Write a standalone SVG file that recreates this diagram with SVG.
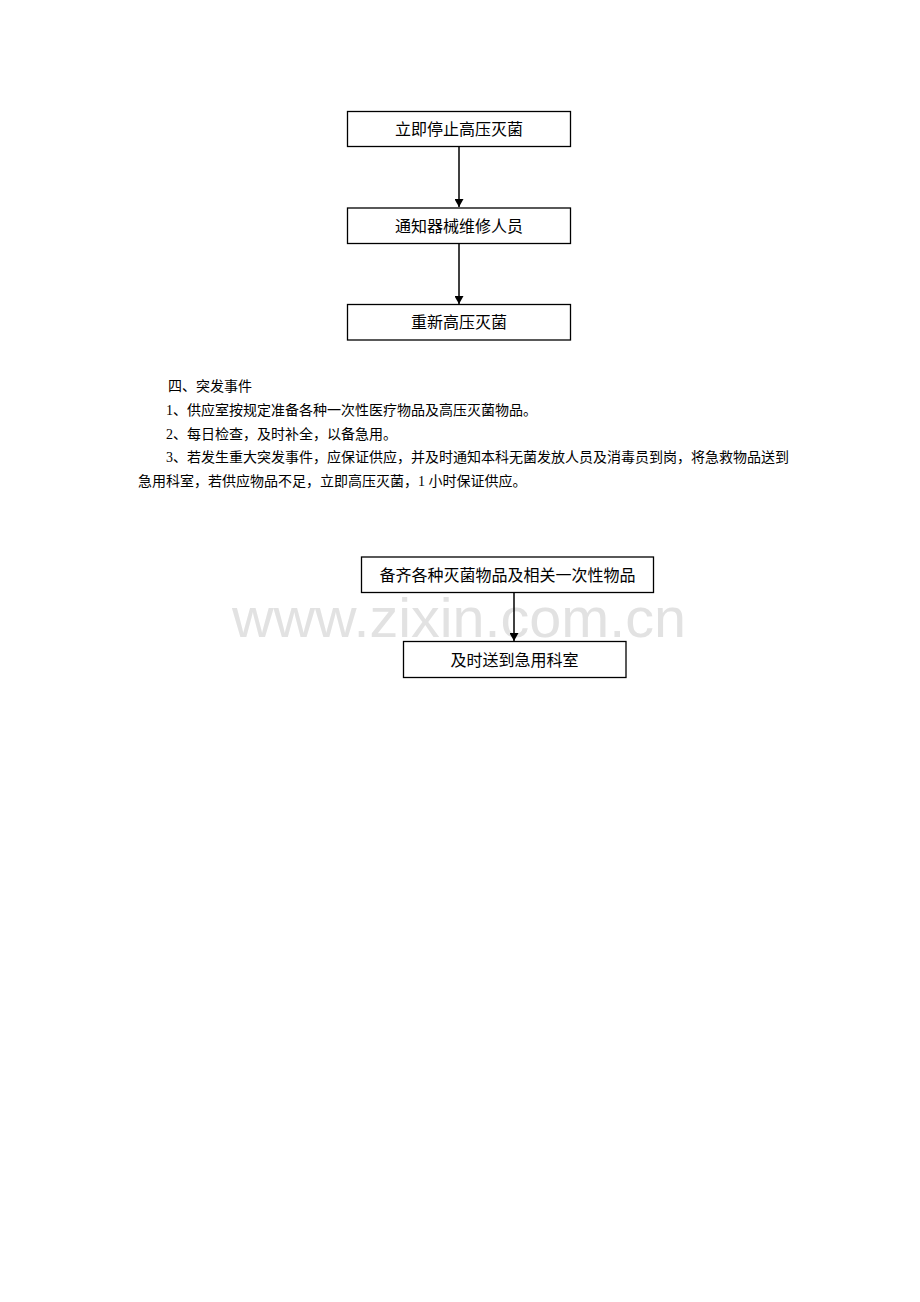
<svg xmlns="http://www.w3.org/2000/svg" width="920" height="1302" viewBox="0 0 920 1302">
<style>
.box{fill:none;stroke:#000;stroke-width:1.3}
.bt{font-family:"Liberation Serif","Noto Sans CJK SC",serif;font-size:16px;fill:#000;text-anchor:middle}
.pt{font-family:"Liberation Serif","Noto Sans CJK SC",serif;font-size:14px;fill:#000}
.wm{font-family:"Liberation Sans",Arial,sans-serif;font-size:56px;fill:#e2e2e2}
.con{stroke:#000;stroke-width:1.5;fill:none}
</style>
<defs>
<marker id="ah" markerWidth="8" markerHeight="9" refX="8" refY="4.5" orient="auto" markerUnits="userSpaceOnUse">
<path d="M0,0 L8,4.5 L0,9 Z" fill="#000"/>
</marker>
</defs>
<rect width="920" height="1302" fill="#fff"/>
<text class="wm" x="232" y="637" textLength="454" lengthAdjust="spacingAndGlyphs">www.zixin.com.cn</text>
<g id="connectors">
<line class="con" x1="459" y1="147" x2="459" y2="207" marker-end="url(#ah)"/>
<line class="con" x1="459" y1="244" x2="459" y2="304" marker-end="url(#ah)"/>
<line class="con" x1="514" y1="593" x2="514" y2="641" marker-end="url(#ah)"/>
</g>
<g id="n1"><rect class="box" x="347.5" y="111.5" width="223" height="35"/><text class="bt" x="459" y="135">立即停止高压灭菌</text></g>
<g id="n2"><rect class="box" x="347.5" y="208" width="223" height="35.5"/><text class="bt" x="459" y="231.5">通知器械维修人员</text></g>
<g id="n3"><rect class="box" x="347.5" y="304.5" width="223" height="35.5"/><text class="bt" x="459" y="328">重新高压灭菌</text></g>
<g id="text">
<text class="pt" x="168" y="391">四、突发事件</text>
<text class="pt" x="166" y="415">1、供应室按规定准备各种一次性医疗物品及高压灭菌物品。</text>
<text class="pt" x="166" y="439">2、每日检查，及时补全，以备急用。</text>
<text class="pt" x="166" y="462">3、若发生重大突发事件，应保证供应，并及时通知本科无菌发放人员及消毒员到岗，将急救物品送到</text>
<text class="pt" x="138" y="486">急用科室，若供应物品不足，立即高压灭菌，1 小时保证供应。</text>
</g>
<g id="n4"><rect class="box" x="361.5" y="557" width="292" height="35.5"/><text class="bt" x="507.5" y="581">备齐各种灭菌物品及相关一次性物品</text></g>
<g id="n5"><rect class="box" x="403.5" y="641.5" width="222.5" height="36"/><text class="bt" x="514.5" y="665.5">及时送到急用科室</text></g>
</svg>
